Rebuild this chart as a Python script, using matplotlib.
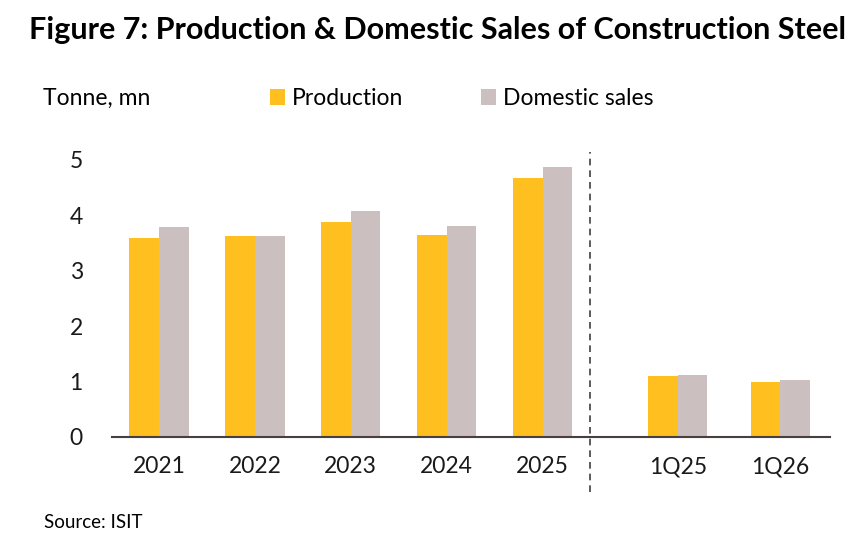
import matplotlib

matplotlib.use("Agg")
import matplotlib.pyplot as plt
import numpy as np

categories = ["2021", "2022", "2023", "2024", "2025", "1Q25", "1Q26"]
production = [3.59, 3.63, 3.88, 3.65, 4.68, 1.10, 0.99]
domestic_sales = [3.79, 3.62, 4.07, 3.80, 4.88, 1.12, 1.02]

# annual groups are evenly spaced, the quarterly pair sits after a gap
positions = np.array([0, 1, 2, 3, 4, 5.41, 6.48])
divider_x = 4.5

YELLOW = "#FFBF1F"
GREY = "#CBC0BF"

plt.rcParams["font.family"] = ["Lato", "DejaVu Sans"]

fig = plt.figure(figsize=(8.55, 5.53), dpi=100)
ax = fig.add_axes([0.131, 0.2098, 0.840, 0.531])

width = 0.31
ax.bar(positions - width / 2, production, width, color=YELLOW, label="Production")
ax.bar(positions + width / 2, domestic_sales, width, color=GREY, label="Domestic sales")

ax.set_xlim(-0.49, 7.0)
ax.set_ylim(0, 5.3)
ax.set_yticks(range(6))
ax.set_xticks(positions)
ax.set_xticklabels(categories)
ax.tick_params(axis="both", length=0, labelsize=16.5, colors="#1a1a1a")
ax.tick_params(axis="y", pad=21)
ax.tick_params(axis="x", pad=14)

for side in ("top", "right", "left"):
    ax.spines[side].set_visible(False)
ax.spines["bottom"].set_color("#4a3f3f")
ax.spines["bottom"].set_linewidth(1.5)

ax.plot([divider_x, divider_x], [-0.99, 5.15], color="#404040", linestyle=(0, (4, 3)),
        linewidth=1.2, clip_on=False)

fig.text(0.512, 0.945, "Figure 7: Production & Domestic Sales of Construction Steel",
         ha="center", va="center", fontsize=22, fontweight="bold")
fig.text(0.05, 0.822, "Tonne, mn", ha="left", va="center", fontsize=16.5)
fig.text(0.052, 0.055, "Source: ISIT", ha="left", va="center", fontsize=13.5)

fig.legend(loc="center left", bbox_to_anchor=(0.316, 0.822), ncol=2, frameon=False,
           fontsize=16.5, handlelength=0.65, handleheight=0.65, handletextpad=0.3,
           columnspacing=3.4, borderaxespad=0, borderpad=0)

fig.savefig("out.png", dpi=100)
